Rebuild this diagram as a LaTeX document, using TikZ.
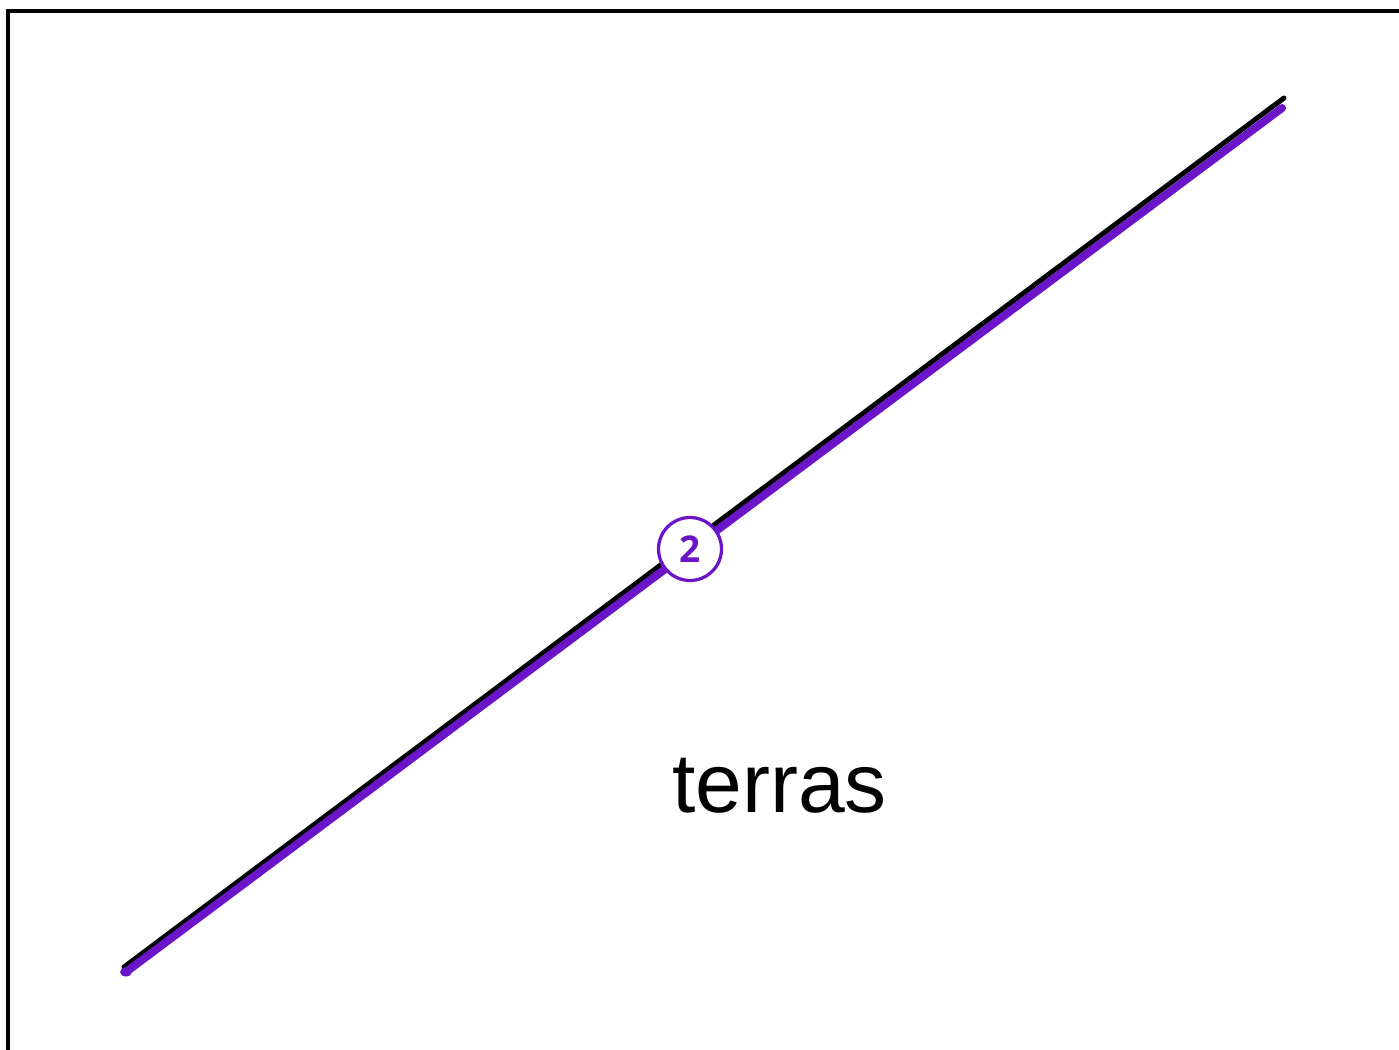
\documentclass[tikz,border=0pt]{standalone}
\usepackage{fontspec}
\setmainfont{Liberation Sans}
\newfontfamily\badgefont{Open Sans}
\usetikzlibrary{positioning}
\definecolor{edgepurple}{RGB}{106,22,200}

\begin{document}
\begin{tikzpicture}[
    x=0.02cm,
    y=-0.02cm,
    frame/.style={draw=black, line width=0.07cm},
    road/.style={draw=black, line width=0.1cm, line cap=round},
    route/.style={draw=edgepurple, line width=0.16cm, line cap=round},
    badge/.style={circle, draw=edgepurple, fill=white, line width=0.065cm,
      minimum size=1.26cm, inner sep=0pt, text=edgepurple,
      font=\badgefont\bfseries\fontsize{21}{22}\selectfont},
    place/.style={font=\fontsize{47.8}{56}\selectfont, anchor=base}
  ]
    \useasboundingbox (0,0) rectangle (1399,1050);
    \draw[frame] (8,1060) -- (8,11) -- (1410,11);
    \coordinate (roadA) at (124,967);
    \coordinate (roadB) at (1284,98);
    \coordinate (routeA) at (126,972);
    \coordinate (routeB) at (1282,108);
    \draw[road] (roadA) -- (roadB);
    \draw[route] (routeA) -- (routeB);
    \fill[edgepurple] (routeA) ellipse [x radius=0.12cm, y radius=0.09cm];
    \node[badge] (step2) at (690,549) {2};
    \node[place] (terras) at (779.5,812) {terras};
\end{tikzpicture}
\end{document}
